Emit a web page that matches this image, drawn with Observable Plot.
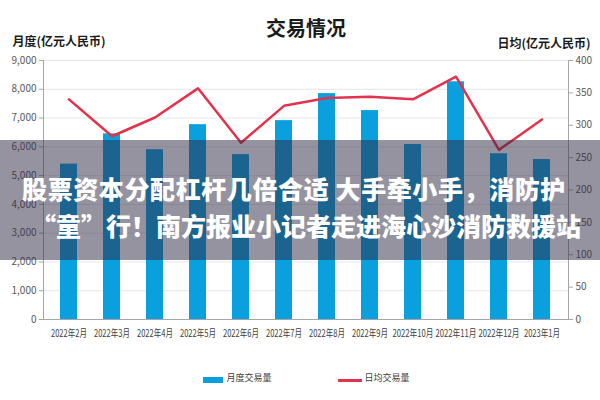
<!DOCTYPE html>
<html>
<head>
<meta charset="utf-8">
<script src="https://cdn.jsdelivr.net/npm/d3@7"></script>
<script src="https://cdn.jsdelivr.net/npm/@observablehq/plot@0.6"></script>
<style>
  body { margin: 0; background: #fff; }
  #wrap { position: relative; width: 600px; height: 400px; font-family: "Noto Sans CJK SC", sans-serif; }
  .abs { position: absolute; white-space: nowrap; }
</style>
</head>
<body>
<div id="wrap"></div>
<script>
const months = ["2022年2月","2022年3月","2022年4月","2022年5月","2022年6月","2022年7月","2022年8月","2022年9月","2022年10月","2022年11月","2022年12月","2023年1月"];
const monthly = [5400, 6450, 5900, 6770, 5730, 6910, 7850, 7260, 6080, 8260, 5760, 5560];
const daily = [340, 283, 312, 357, 273, 330, 342, 344, 340, 375, 262, 309];
const leftTicks = [0,1000,2000,3000,4000,5000,6000,7000,8000,9000];
const rightTicks = [0,50,100,150,200,250,300,350,400];
const title = "交易情况";
const leftLabel = "月度(亿元人民币)";
const rightLabel = "日均(亿元人民币)";
const legendLabels = ["月度交易量", "日均交易量"];
const bannerLines = ["股票资本分配杠杆几倍合适 大手牵小手，消防护", "“童”行！南方报业小记者走进海心沙消防救援站"];

const ratio = 9000 / 400;
const table = months.map((m, i) => ({month: m, monthly: monthly[i], daily: daily[i], dailyScaled: daily[i] * ratio}));
const font = "Noto Sans CJK SC";
const narrow = "'Liberation Sans Narrow', 'Noto Sans CJK SC', sans-serif";

const chart = Plot.plot({
  width: 600, height: 400,
  marginTop: 60, marginBottom: 81, marginLeft: 43, marginRight: 32,
  style: {fontFamily: font, fontSize: "10px", color: "#595959", background: "#fff"},
  x: {type: "band", domain: months, paddingInner: 0.6, paddingOuter: 0.3, label: null},
  y: {domain: [0, 9000], label: null},
  marks: [
    Plot.gridY(leftTicks, {stroke: "#e6e6e6", strokeOpacity: 1}),
    Plot.barY(table, {x: "month", y: "monthly", fill: "#0aa0de"}),
    Plot.line(table, {x: "month", y: "dailyScaled", stroke: "#e3324c", strokeWidth: 2.5}),
    Plot.axisY(leftTicks, {anchor: "left", tickFormat: d3.format(","), tickSize: 4, tickPadding: 3, label: null, stroke: "#a6a6a6", fill: "#595959", fontFamily: narrow, fontSize: 10}),
    Plot.axisY(rightTicks.map(v => v * ratio), {anchor: "right", tickFormat: d => String(Math.round(d / ratio)), tickSize: 4, tickPadding: 3, label: null, stroke: "#a6a6a6", fill: "#595959", fontFamily: narrow, fontSize: 10}),
    Plot.axisX({tickSize: 0, tickPadding: 10, label: null, fill: "#404040", fontSize: 10.5, fontWeight: "normal"}),
    Plot.frame({anchor: "left", stroke: "#a6a6a6"}),
    Plot.frame({anchor: "right", stroke: "#a6a6a6"}),
    Plot.ruleY([0], {stroke: "#a6a6a6"}),
    Plot.text([title], {frameAnchor: "top", dy: -39, fontSize: 20, fontWeight: "bold", fill: "#1a1a1a", text: d => d}),
    Plot.text([leftLabel], {frameAnchor: "top-left", dx: -31, dy: -23, textAnchor: "start", fontSize: 12, fontWeight: "bold", fill: "#1a1a1a", text: d => d}),
    Plot.text([rightLabel], {frameAnchor: "top-right", dx: 22, dy: -21, textAnchor: "end", fontSize: 12, fontWeight: "bold", fill: "#1a1a1a", text: d => d}),
    Plot.text([legendLabels[0]], {frameAnchor: "bottom-left", dx: 183, dy: 61, textAnchor: "start", fontSize: 9, fill: "#404040", text: d => d}),
    Plot.text([legendLabels[1]], {frameAnchor: "bottom-left", dx: 321, dy: 61, textAnchor: "start", fontSize: 9, fill: "#404040", text: d => d})
  ]
});

// condense x tick labels to match the reference's narrow type
chart.querySelectorAll('g[aria-label="x-axis tick label"] text').forEach(t => {
  const n = t.textContent.length;
  t.setAttribute("textLength", n >= 8 ? 41 : 36);
  t.setAttribute("lengthAdjust", "spacingAndGlyphs");
});

const wrap = document.getElementById("wrap");
wrap.appendChild(chart);

// legend swatches
const sw1 = document.createElement("div");
sw1.className = "abs";
Object.assign(sw1.style, {left: "203px", top: "377px", width: "20px", height: "6px", background: "#0aa0de"});
wrap.appendChild(sw1);
const sw2 = document.createElement("div");
sw2.className = "abs";
Object.assign(sw2.style, {left: "338px", top: "379px", width: "24px", height: "2.5px", background: "#e3324c"});
wrap.appendChild(sw2);

// banner overlay
const band = document.createElement("div");
band.className = "abs";
Object.assign(band.style, {left: "0px", top: "140px", width: "600px", height: "120px", background: "rgba(45,40,65,0.5)"});
wrap.appendChild(band);
bannerLines.forEach((t, i) => {
  const d = document.createElement("div");
  d.className = "abs";
  d.textContent = t;
  Object.assign(d.style, {
    left: i === 0 ? "-6px" : "6px", width: "600px", textAlign: "center",
    top: (i === 0 ? 171 : 208) + "px", fontSize: "25px", lineHeight: "34px",
    fontWeight: "900", color: "#fff", fontFamily: font,
    letterSpacing: i === 0 ? "0.6px" : "0px"
  });
  wrap.appendChild(d);
});
</script>
</body>
</html>
